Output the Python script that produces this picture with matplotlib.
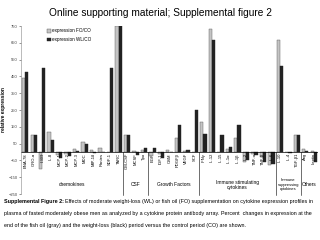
import matplotlib
matplotlib.use("Agg")
import matplotlib.pyplot as plt
import numpy as np

plt.rcParams['font.family'] = ['Liberation Sans', 'DejaVu Sans']

# categories in order, grouped
chemokines = ['ENA-78', 'GRO-α', 'I-309', 'IL-8', 'MCP-1', 'MCP-2', 'MCP-3',
              'MDC', 'MIP-1δ', 'Rantes', 'SDF-1', 'TARC']
csf = ['GM-CSF', 'MCSF', 'Tpo']
growth = ['EGF', 'IGF-1', 'OSM', 'PDGFβ', 'VEGF', 'SCF']
immune_stim = ['IFNγ', 'IL-12', 'IL-15', 'IL-1α', 'IL-1β', 'IL-2', 'TNF-α',
               'TNF-β', 'IL-6']
immune_supp = ['IL-10', 'IL-4', 'TGF-β1']
others = ['Ang', 'Leptin']

groups = [('chemokines', chemokines, 3.5), ('CSF', csf, 3.5),
          ('Growth Factors', growth, 3.5),
          ('Immune stimulating\ncytokines', immune_stim, 3.5),
          ('Immune\nsuppressing\ncytokines', immune_supp, 2.9),
          ('Others', others, 3.5)]

# percent change, fish oil vs control (gray)
fo_co = [440, 100, -100, 120, -20, -10, 15, 60, 12, 25, 0, 750,
         100, 5, 10,
         -25, -10, 10, 85, 5, 0,
         178, 735, 0, 15, 85, -60, -10, -30, -80,
         665, 0, 100,
         15, 5]
# percent change, weight loss vs control (black)
wl_co = [478, 100, 500, 70, -35, -25, 5, 45, -5, 0, 500, 760,
         100, -15, 25,
         25, -35, 0, 160, 10, 250,
         107, 665, 100, 30, 160, -50, -20, -60, -70,
         512, -5, 100,
         5, -60]

labels = chemokines + csf + growth + immune_stim + immune_supp + others
x = np.arange(len(labels))

fig = plt.figure(figsize=(3.2, 2.4), dpi=100)
ax = fig.add_axes([21 / 320, 1 - 194 / 240, 297 / 320, 168 / 240])

w = 0.38
ax.bar(x - w / 2, fo_co, w, color='#c4c4c4', edgecolor='#555555', linewidth=0.3,
       label='expression FO/CO')
ax.bar(x + w / 2, wl_co, w, color='#222222', edgecolor='#222222', linewidth=0.3,
       label='expression WL/CO')

ax.set_xlim(-0.5, len(labels) - 0.5)
ax.set_ylim(-250, 750)
ax.set_yticks(np.arange(-250, 751, 100))
ax.tick_params(axis='y', labelsize=3, length=1.5, width=0.4, pad=1,
               colors='#444444')
ax.set_xticks([])
for s in ['top', 'right', 'bottom']:
    ax.spines[s].set_visible(False)
ax.spines['left'].set_linewidth(0.4)
ax.spines['left'].set_color('#888888')
ax.axhline(0, color='black', linewidth=0.5)
ax.set_ylabel('relative expression', fontsize=3.5, fontweight='bold', labelpad=2)

for i, lab in enumerate(labels):
    ax.text(i, -6, lab, rotation=90, ha='center', va='top', fontsize=3)

start = 0
for name, cats, fs in groups:
    end = start + len(cats)
    if start > 0:
        ax.plot([start - 0.5, start - 0.5], [0, -255], color='black',
                linewidth=0.4, clip_on=False)
    ax.text((start + end - 1) / 2, -195, name, ha='center', va='center',
            fontsize=fs, linespacing=1.1)
    start = end

ax.legend(loc='upper left', bbox_to_anchor=(0.075, 1.01), fontsize=3.3,
          frameon=False, handlelength=0.8, handleheight=0.8,
          handletextpad=0.2, labelspacing=0.8)

fig.text(0.5, 1 - 13 / 240, 'Online supporting material; Supplemental figure 2',
         ha='center', va='center', fontsize=7.3)

# caption with bold lead-in
fig.canvas.draw()
r = fig.canvas.get_renderer()
cap_fs = 3.85
cap_y = [1 - 201 / 240, 1 - 213 / 240, 1 - 226 / 240]
bold = fig.text(4 / 320, cap_y[0], 'Supplemental Figure 2:', fontsize=cap_fs,
                fontweight='bold', va='center')
bb = bold.get_window_extent(renderer=r)
fig.text(bb.x1 / 320 + 0.004, cap_y[0],
         'Effects of moderate weight-loss (WL) or fish oil (FO) supplementation '
         'on cytokine expression profiles in', fontsize=cap_fs, va='center')
fig.text(4 / 320, cap_y[1],
         'plasma of fasted moderately obese men as analyzed by a cytokine protein '
         'antibody array. Percent  changes in expression at the',
         fontsize=cap_fs, va='center')
fig.text(4 / 320, cap_y[2],
         'end of the fish oil (gray) and the weight-loss (black) period versus '
         'the control period (CO) are shown.', fontsize=cap_fs, va='center')

fig.savefig('out.png', dpi=100)
